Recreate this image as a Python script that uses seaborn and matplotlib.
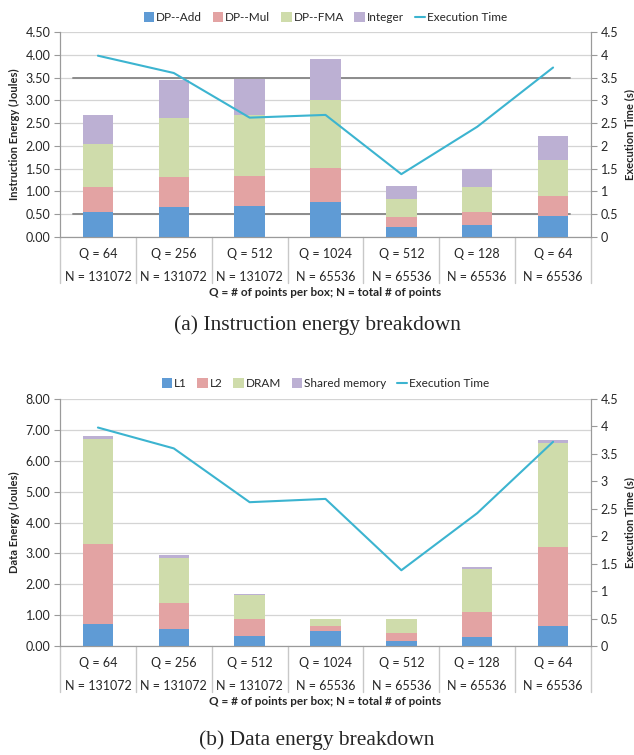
import numpy as np
import seaborn as sns
import matplotlib.pyplot as plt
from matplotlib.ticker import FormatStrFormatter, FuncFormatter

# categories
q_vals = [64, 256, 512, 1024, 512, 128, 64]
n_vals = [131072, 131072, 131072, 65536, 65536, 65536, 65536]

# instruction energy (Joules), per component
dp_add = [0.54, 0.65, 0.67, 0.76, 0.21, 0.27, 0.46]
dp_mul = [0.56, 0.66, 0.67, 0.75, 0.22, 0.28, 0.45]
dp_fma = [0.95, 1.31, 1.34, 1.50, 0.41, 0.55, 0.78]
integer = [0.62, 0.82, 0.79, 0.89, 0.27, 0.40, 0.53]

# data energy (Joules), per component
l1 = [0.70, 0.55, 0.33, 0.48, 0.15, 0.30, 0.66]
l2 = [2.61, 0.85, 0.54, 0.18, 0.27, 0.80, 2.56]
dram = [3.38, 1.46, 0.78, 0.20, 0.45, 1.38, 3.36]
shared = [0.12, 0.08, 0.02, 0.03, 0.01, 0.07, 0.10]

# execution time (s)
exec_time = [3.98, 3.60, 2.62, 2.68, 1.38, 2.42, 3.72]

colors = ["#5f9bd5", "#e3a3a3", "#cfdcab", "#bcb0d3"]
line_color = "#3cb4d0"
spine_color = "#9a9a9a"

sns.set_style("white")
plt.rcParams['font.family'] = ['Lato', 'DejaVu Sans']

labels = [f"Q = {q}\nN = {n}" for q, n in zip(q_vals, n_vals)]


def draw_panel(fig, rect, layers, names, ymax, ystep, ylabel, table_depth, dark_lines=()):
    ax = fig.add_axes(rect)
    cum = np.cumsum(np.array(layers), axis=0)
    # draw from top of stack down so the lower parts cover the upper ones
    for i in range(len(layers) - 1, -1, -1):
        sns.barplot(x=labels, y=cum[i], color=colors[i], width=0.4, ax=ax,
                    label=names[i], saturation=1, edgecolor="none", zorder=3)
    ax.set_ylim(0, ymax)
    ax.set_yticks(np.arange(0, ymax + 0.001, ystep))
    ax.yaxis.set_major_formatter(FormatStrFormatter('%.2f'))
    ax.set_xlim(-0.5, len(labels) - 0.5)
    ax.grid(axis='y', color='#d4d4d4', lw=0.9, zorder=0)
    for y in dark_lines:
        ax.axhline(y, xmin=0.025, xmax=0.96, color='#8c8c8c', lw=1.4, zorder=2)
    ax.set_xticks(range(len(labels)))
    ax.set_xticklabels([])
    ax.tick_params(axis='x', length=0)
    ax.tick_params(axis='y', length=4, color=spine_color, labelsize=9, pad=3, direction='out', left=True)
    ax.spines['top'].set_visible(False)
    for s in ['left', 'bottom', 'right']:
        ax.spines[s].set_color(spine_color)
    ax.set_ylabel(ylabel, fontsize=8, fontweight='bold', labelpad=4)
    ax.set_xlabel("")

    # category table below the axis
    xt = ax.get_xaxis_transform()
    for k in range(len(labels) + 1):
        ax.plot([k - 0.5, k - 0.5], [0, -table_depth], transform=xt, color='#c8c8c8',
                lw=1.0, clip_on=False)
    for k, (q, n) in enumerate(zip(q_vals, n_vals)):
        ax.text(k, -table_depth * 0.36, f"Q = {q}", transform=xt, ha='center', va='center', fontsize=9)
        ax.text(k, -table_depth * 0.86, f"N = {n}", transform=xt, ha='center', va='center', fontsize=9)
    ax.text(0.5, -table_depth - 0.045 * (0.27 / rect[3]), "Q = # of points per box; N = total # of points",
            transform=ax.transAxes, ha='center', va='center', fontsize=8.5, fontweight='bold')

    ax2 = ax.twinx()
    sns.lineplot(x=list(range(len(labels))), y=exec_time, color=line_color, lw=1.5, ax=ax2,
                 label="Execution Time", legend=False)
    ax2.set_ylim(0, 4.5)
    ax2.set_yticks(np.arange(0, 4.51, 0.5))
    ax2.yaxis.set_major_formatter(FuncFormatter(lambda v, p: f"{v:g}"))
    ax2.tick_params(axis='y', length=4, color=spine_color, labelsize=9, pad=3)
    ax2.spines['top'].set_visible(False)
    for s in ['left', 'bottom', 'right']:
        ax2.spines[s].set_color(spine_color)
    ax2.set_ylabel("Execution Time (s)", fontsize=8, fontweight='bold', labelpad=4)

    h1, l1_ = ax.get_legend_handles_labels()
    h2, l2_ = ax2.get_legend_handles_labels()
    handles = list(reversed(h1)) + h2
    labs = list(reversed(l1_)) + l2_
    ax.legend(handles, labs, loc='lower center', bbox_to_anchor=(0.5, 1.02), ncol=5, frameon=False,
              fontsize=8.5, handlelength=0.9, handleheight=0.9, handletextpad=0.15, columnspacing=0.9,
              borderaxespad=0)
    return ax, ax2


fig = plt.figure(figsize=(6.34, 7.55), dpi=100)

draw_panel(fig, [60 / 634, 1 - 237 / 755, 531 / 634, 205 / 755],
           [dp_add, dp_mul, dp_fma, integer], ["DP--Add", "DP--Mul", "DP--FMA", "Integer"],
           4.5, 0.5, "Instruction Energy (Joules)", 0.225, dark_lines=(0.5, 3.5))
fig.text(0.5, 1 - 325 / 755, "(a) Instruction energy breakdown", ha='center', va='center',
         fontsize=15.5, family='Liberation Serif')

draw_panel(fig, [60 / 634, 1 - 646 / 755, 531 / 634, 247 / 755],
           [l1, l2, dram, shared], ["L1", "L2", "DRAM", "Shared memory"],
           8.0, 1.0, "Data Energy (Joules)", 0.186)
fig.text(0.5, 1 - 740 / 755, "(b) Data energy breakdown", ha='center', va='center',
         fontsize=15.5, family='Liberation Serif')

fig.savefig("out.png", dpi=100)
